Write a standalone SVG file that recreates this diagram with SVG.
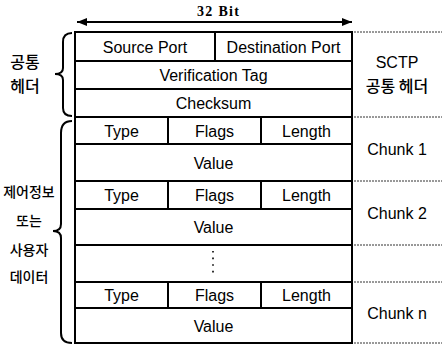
<svg xmlns="http://www.w3.org/2000/svg" width="442" height="345" viewBox="0 0 442 345">
<defs>
<marker id="ah" viewBox="0 0 10 8" refX="10" refY="4" markerWidth="10" markerHeight="8" markerUnits="userSpaceOnUse" orient="auto-start-reverse">
<path d="M0,0 L10,4 L0,8 Z" fill="#000"/>
</marker>
<style>
.cell{fill:#fff;stroke:#000;stroke-width:2}
.ln{stroke:#000;stroke-width:2;fill:none}
.dash{stroke:#333;stroke-width:1;stroke-dasharray:2 1;fill:none}
.brace{stroke:#000;stroke-width:2;fill:none}
.t{font-family:"Liberation Sans",Arial,sans-serif;font-size:16px;fill:#000;text-anchor:middle}
.k{font-family:"Noto Sans CJK KR","Noto Sans",sans-serif;font-size:16px;fill:#000;font-weight:500;text-anchor:middle}
.ks{font-size:14px}
.ttl{font-family:"Liberation Serif","Times New Roman",serif;font-size:14px;font-weight:bold;fill:#000;text-anchor:middle}
</style>
</defs>
<rect width="442" height="345" fill="#fff"/>

<g id="connectors">
<line class="ln" x1="77" y1="22" x2="352" y2="22" stroke-width="1.6" marker-start="url(#ah)" marker-end="url(#ah)"/>
<path class="brace" d="M72,33 Q63,33 63,42 L63,68 Q63,74 55,74 Q63,74 63,80 L63,108 Q63,116 72,116"/>
<path class="brace" d="M72,121 Q61,121 61,133 L61,224 Q61,231 53,231 Q61,231 61,238 L61,333 Q61,343 72,343"/>
<line class="dash" x1="354" y1="32" x2="442" y2="32"/>
<line class="dash" x1="354" y1="117" x2="442" y2="117"/>
<line class="dash" x1="354" y1="181" x2="442" y2="181"/>
<line class="dash" x1="354" y1="245" x2="442" y2="245"/>
<line class="dash" x1="354" y1="282" x2="442" y2="282"/>
<line class="dash" x1="354" y1="343" x2="442" y2="343"/>
</g>

<text class="ttl" x="218" y="16" textLength="42">32 Bit</text>

<g id="header">
<rect class="cell" x="75" y="32" width="277" height="85"/>
<line class="ln" x1="75" y1="61" x2="352" y2="61"/>
<line class="ln" x1="75" y1="89" x2="352" y2="89"/>
<line class="ln" x1="215" y1="32" x2="215" y2="61"/>
<text class="t" x="145" y="52.5">Source Port</text>
<text class="t" x="283.5" y="52.5">Destination Port</text>
<text class="t" x="213.5" y="81">Verification Tag</text>
<text class="t" x="213.5" y="109">Checksum</text>
</g>

<g id="chunk1">
<rect class="cell" x="75" y="117" width="277" height="64"/>
<line class="ln" x1="75" y1="144" x2="352" y2="144"/>
<line class="ln" x1="168" y1="117" x2="168" y2="144"/>
<line class="ln" x1="261" y1="117" x2="261" y2="144"/>
<text class="t" x="121.5" y="136.5">Type</text>
<text class="t" x="214.5" y="136.5">Flags</text>
<text class="t" x="306.5" y="136.5">Length</text>
<text class="t" x="213.5" y="168.5">Value</text>
</g>

<g id="chunk2">
<rect class="cell" x="75" y="181" width="277" height="64"/>
<line class="ln" x1="75" y1="209" x2="352" y2="209"/>
<line class="ln" x1="168" y1="181" x2="168" y2="209"/>
<line class="ln" x1="261" y1="181" x2="261" y2="209"/>
<text class="t" x="121.5" y="201">Type</text>
<text class="t" x="214.5" y="201">Flags</text>
<text class="t" x="306.5" y="201">Length</text>
<text class="t" x="213.5" y="233">Value</text>
</g>

<g id="ellipsis">
<rect class="cell" x="75" y="245" width="277" height="37"/>
<line x1="213" y1="251" x2="213" y2="274" stroke="#000" stroke-width="1.6" stroke-dasharray="1.6 5"/>
</g>

<g id="chunkn">
<rect class="cell" x="75" y="282" width="277" height="61"/>
<line class="ln" x1="75" y1="308" x2="352" y2="308"/>
<line class="ln" x1="168" y1="282" x2="168" y2="308"/>
<line class="ln" x1="261" y1="282" x2="261" y2="308"/>
<text class="t" x="121.5" y="301">Type</text>
<text class="t" x="214.5" y="301">Flags</text>
<text class="t" x="306.5" y="301">Length</text>
<text class="t" x="213.5" y="331.5">Value</text>
</g>

<g id="labels-right">
<text class="t" x="397" y="68">SCTP</text>
<text class="k" x="397" y="92" font-size="15">공통 헤더</text>
<text class="t" x="397" y="155">Chunk 1</text>
<text class="t" x="397" y="219">Chunk 2</text>
<text class="t" x="397" y="318.5">Chunk n</text>
</g>

<g id="labels-left">
<text class="k" x="25" y="68">공통</text>
<text class="k" x="25" y="92">헤더</text>
<text class="k ks" x="29" y="197">제어정보</text>
<text class="k ks" x="29" y="226">또는</text>
<text class="k ks" x="29" y="255">사용자</text>
<text class="k ks" x="29" y="282">데이터</text>
</g>
</svg>
